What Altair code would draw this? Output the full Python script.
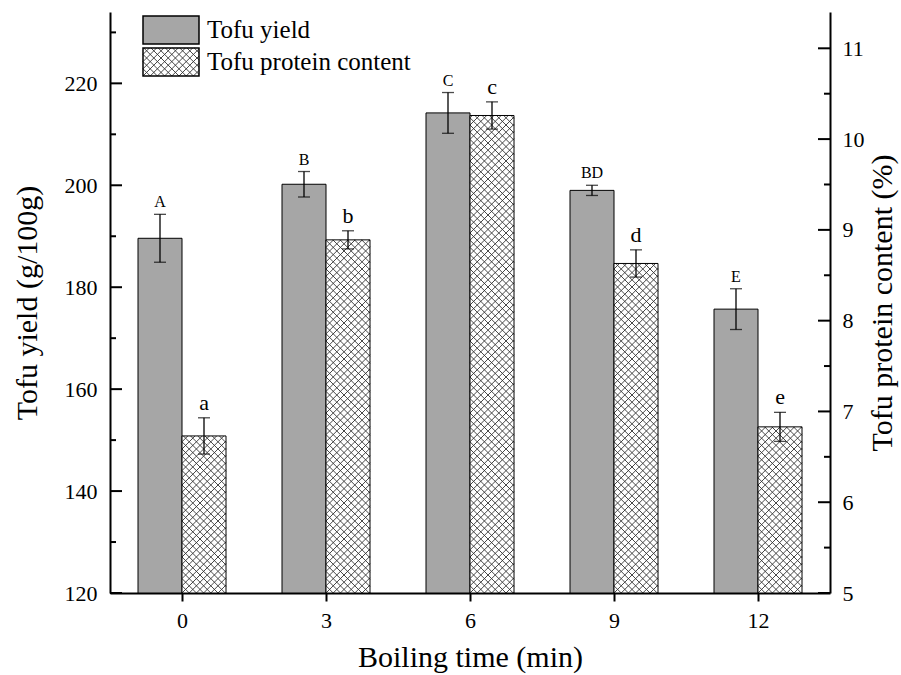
import math
import altair as alt
import pandas as pd

# Boiling time groups with measured means, error half-widths and significance letters
times = [0, 3, 6, 9, 12]
yield_mean = [189.6, 200.2, 214.2, 199.0, 175.7]
yield_err = [4.7, 2.5, 4.0, 1.0, 4.0]
yield_letters = ["A", "B", "C", "BD", "E"]
protein_mean = [6.73, 8.89, 10.26, 8.63, 6.83]
protein_err = [0.20, 0.10, 0.15, 0.15, 0.16]
protein_letters = ["a", "b", "c", "d", "e"]

# Axis ticks
x_ticks = [0, 3, 6, 9, 12]
left_major = [120, 140, 160, 180, 200, 220]
left_minor = [130, 150, 170, 190, 210, 230]
right_major = [5, 6, 7, 8, 9, 10, 11]
right_minor = [5.5, 6.5, 7.5, 8.5, 9.5, 10.5]

# Layout / style
W, H = 720, 581
X_DOM = [-1.5, 13.5]
YL_DOM = [120, 234]
YR_DOM = [5, 11.4]
BAR_PX = 44
HATCH_STEP = 7.2
FONT = "Liberation Serif"
GREY = "#a6a6a6"

px_x = W / (X_DOM[1] - X_DOM[0])
px_r = H / (YR_DOM[1] - YR_DOM[0])
bw = BAR_PX / px_x


def from_px_x(p):
    return X_DOM[0] + p / px_x


def from_px_r(p):
    return YR_DOM[0] + (H - p) / px_r


def crosshatch(left, top, w, h, step):
    """Diagonal lines at +/-45 degrees clipped to a rectangle (plot pixels)."""
    segs = []
    bottom = top + h
    n0 = math.floor(-w / step) - 1
    n1 = math.ceil((w + h) / step) + 1
    for n in range(n0, n1 + 1):
        c = n * step
        # rising lines  s = u + c
        u0, u1 = max(0.0, -c), min(w, h - c)
        if u1 - u0 > 0.3:
            segs.append((left + u0, bottom - (u0 + c), left + u1, bottom - (u1 + c)))
        # falling lines s = -u + c
        u0, u1 = max(0.0, c - h), min(w, c)
        if u1 - u0 > 0.3:
            segs.append((left + u0, bottom - (c - u0), left + u1, bottom - (c - u1)))
    return [
        {"hx1": from_px_x(a), "hy1": from_px_r(b), "hx2": from_px_x(c_), "hy2": from_px_r(d)}
        for a, b, c_, d in segs
    ]


x_scale = alt.Scale(domain=X_DOM, nice=False, zero=False)
yl_scale = alt.Scale(domain=YL_DOM, nice=False, zero=False)
yr_scale = alt.Scale(domain=YR_DOM, nice=False, zero=False)

yield_df = pd.DataFrame({
    "time": times,
    "x0": [t - bw for t in times],
    "x1": times,
    "xc": [t - bw / 2 for t in times],
    "base": [YL_DOM[0]] * len(times),
    "mean": yield_mean,
    "lo": [m - e for m, e in zip(yield_mean, yield_err)],
    "hi": [m + e for m, e in zip(yield_mean, yield_err)],
    "letter": yield_letters,
})

protein_df = pd.DataFrame({
    "time": times,
    "x0": times,
    "x1": [t + bw for t in times],
    "xc": [t + bw / 2 for t in times],
    "base": [YR_DOM[0]] * len(times),
    "mean": protein_mean,
    "lo": [m - e for m, e in zip(protein_mean, protein_err)],
    "hi": [m + e for m, e in zip(protein_mean, protein_err)],
    "letter": protein_letters,
})

# Hatch lines for the protein bars (bar rectangles taken from the data via the scales)
hatch_rows = []
for t, m in zip(times, protein_mean):
    left = (t - X_DOM[0]) * px_x
    top = H - (m - YR_DOM[0]) * px_r
    hatch_rows += crosshatch(left, top, BAR_PX, H - top, HATCH_STEP)

# Legend swatch geometry (plot pixels)
LEG_X, LEG_W, LEG_H = 33, 56, 28
LEG_Y1, LEG_Y2 = 4, 36
legend_hatch = crosshatch(LEG_X, LEG_Y2, LEG_W, LEG_H, HATCH_STEP)
hatch_df = pd.DataFrame(hatch_rows + legend_hatch)

one = pd.DataFrame({"k": [0]})

# ---------- left axis layer: tofu yield ----------
yield_bars = alt.Chart(yield_df).mark_rect(fill=GREY, stroke="black", strokeWidth=1).encode(
    x=alt.X("x0:Q", scale=x_scale,
            axis=alt.Axis(values=x_ticks, title="Boiling time (min)", tickSize=8, tickWidth=2,
                          labelPadding=9, titlePadding=11, titleFontSize=30, format="d")),
    x2="x1:Q",
    y=alt.Y("base:Q", scale=yl_scale,
            axis=alt.Axis(values=left_major, title="Tofu yield (g/100g)", orient="left",
                          ticks=False, tickSize=0, labelPadding=13, titlePadding=22,
                          format="d")),
    y2="mean:Q",
)
yield_err_rule = alt.Chart(yield_df).mark_rule(color="black", strokeWidth=1.3).encode(
    x=alt.X("xc:Q", scale=x_scale),
    y=alt.Y("lo:Q", scale=yl_scale),
    y2="hi:Q",
)
yield_caps = alt.Chart(yield_df).transform_fold(["lo", "hi"], as_=["end", "v"]).mark_tick(
    orient="horizontal", size=12, thickness=1.3, color="black").encode(
    x=alt.X("xc:Q", scale=x_scale),
    y=alt.Y("v:Q", scale=yl_scale),
)
yield_text = alt.Chart(yield_df).mark_text(
    font=FONT, fontSize=16, baseline="bottom", dy=-4, color="black").encode(
    x=alt.X("xc:Q", scale=x_scale),
    y=alt.Y("hi:Q", scale=yl_scale),
    text="letter:N",
)
left_ticks_major = alt.Chart(pd.DataFrame({"v": left_major})).mark_rule(
    color="black", strokeWidth=2).encode(
    y=alt.Y("v:Q", scale=yl_scale), x=alt.value(0), x2=alt.value(12))
left_ticks_minor = alt.Chart(pd.DataFrame({"v": left_minor})).mark_rule(
    color="black", strokeWidth=2).encode(
    y=alt.Y("v:Q", scale=yl_scale), x=alt.value(0), x2=alt.value(6))
legend_grey = alt.Chart(one).mark_rect(fill=GREY, stroke="black", strokeWidth=1.5).encode(
    x=alt.value(LEG_X), x2=alt.value(LEG_X + LEG_W),
    y=alt.value(LEG_Y1), y2=alt.value(LEG_Y1 + LEG_H))

left_layer = alt.layer(yield_bars, yield_err_rule, yield_caps, yield_text,
                       left_ticks_major, left_ticks_minor, legend_grey)

# ---------- right axis layer: tofu protein content ----------
protein_bars = alt.Chart(protein_df).mark_rect(fill="white").encode(
    x=alt.X("x0:Q", scale=x_scale),
    x2="x1:Q",
    y=alt.Y("base:Q", scale=yr_scale,
            axis=alt.Axis(values=right_major, title="Tofu protein content (%)", orient="right",
                          ticks=False, tickSize=0, labelPadding=12, titlePadding=3,
                          titleFontSize=30, titleAngle=270, titleBaseline="top", format="d")),
    y2="mean:Q",
)
hatch = alt.Chart(hatch_df).mark_rule(color="#333333", strokeWidth=0.9).encode(
    x=alt.X("hx1:Q", scale=x_scale),
    x2="hx2:Q",
    y=alt.Y("hy1:Q", scale=yr_scale),
    y2="hy2:Q",
)
protein_outline = alt.Chart(protein_df).mark_rect(fill=None, stroke="black", strokeWidth=1).encode(
    x=alt.X("x0:Q", scale=x_scale),
    x2="x1:Q",
    y=alt.Y("base:Q", scale=yr_scale),
    y2="mean:Q",
)
protein_err_rule = alt.Chart(protein_df).mark_rule(color="black", strokeWidth=1.3).encode(
    x=alt.X("xc:Q", scale=x_scale),
    y=alt.Y("lo:Q", scale=yr_scale),
    y2="hi:Q",
)
protein_caps = alt.Chart(protein_df).transform_fold(["lo", "hi"], as_=["end", "v"]).mark_tick(
    orient="horizontal", size=12, thickness=1.3, color="black").encode(
    x=alt.X("xc:Q", scale=x_scale),
    y=alt.Y("v:Q", scale=yr_scale),
)
protein_text = alt.Chart(protein_df).mark_text(
    font=FONT, fontSize=22, baseline="bottom", dy=-3, color="black").encode(
    x=alt.X("xc:Q", scale=x_scale),
    y=alt.Y("hi:Q", scale=yr_scale),
    text="letter:N",
)
right_ticks_major = alt.Chart(pd.DataFrame({"v": right_major})).mark_rule(
    color="black", strokeWidth=2).encode(
    y=alt.Y("v:Q", scale=yr_scale), x=alt.value(W - 12), x2=alt.value(W))
right_ticks_minor = alt.Chart(pd.DataFrame({"v": right_minor})).mark_rule(
    color="black", strokeWidth=2).encode(
    y=alt.Y("v:Q", scale=yr_scale), x=alt.value(W - 6), x2=alt.value(W))
legend_hatch_box = alt.Chart(one).mark_rect(fill=None, stroke="black", strokeWidth=1.5).encode(
    x=alt.value(LEG_X), x2=alt.value(LEG_X + LEG_W),
    y=alt.value(LEG_Y2), y2=alt.value(LEG_Y2 + LEG_H))
legend_labels = alt.Chart(pd.DataFrame({
    "label": ["Tofu yield", "Tofu protein content"],
    "py": [LEG_Y1 + LEG_H / 2, LEG_Y2 + LEG_H / 2],
})).mark_text(font=FONT, fontSize=25, align="left", baseline="middle", color="black").encode(
    x=alt.value(LEG_X + LEG_W + 8),
    y=alt.Y("py:Q", scale=None),
    text="label:N",
)

right_layer = alt.layer(protein_bars, hatch, protein_outline, protein_err_rule, protein_caps,
                        protein_text, right_ticks_major, right_ticks_minor, legend_hatch_box)

chart = alt.layer(left_layer, right_layer, legend_labels).resolve_scale(
    y="independent"
).properties(
    width=W, height=H,
    autosize=alt.AutoSizeParams(type="none"),
    padding={"left": 110, "top": 12, "right": 71, "bottom": 82},
    background="white",
).configure_view(stroke=None).configure_axis(
    labelFont=FONT, titleFont=FONT, labelFontSize=22, titleFontSize=30,
    titleFontWeight="normal", labelColor="black", titleColor="black",
    domainColor="black", domainWidth=2, tickColor="black", grid=False,
)

chart.save("out.html", embed_options={"renderer": "svg", "actions": False})
